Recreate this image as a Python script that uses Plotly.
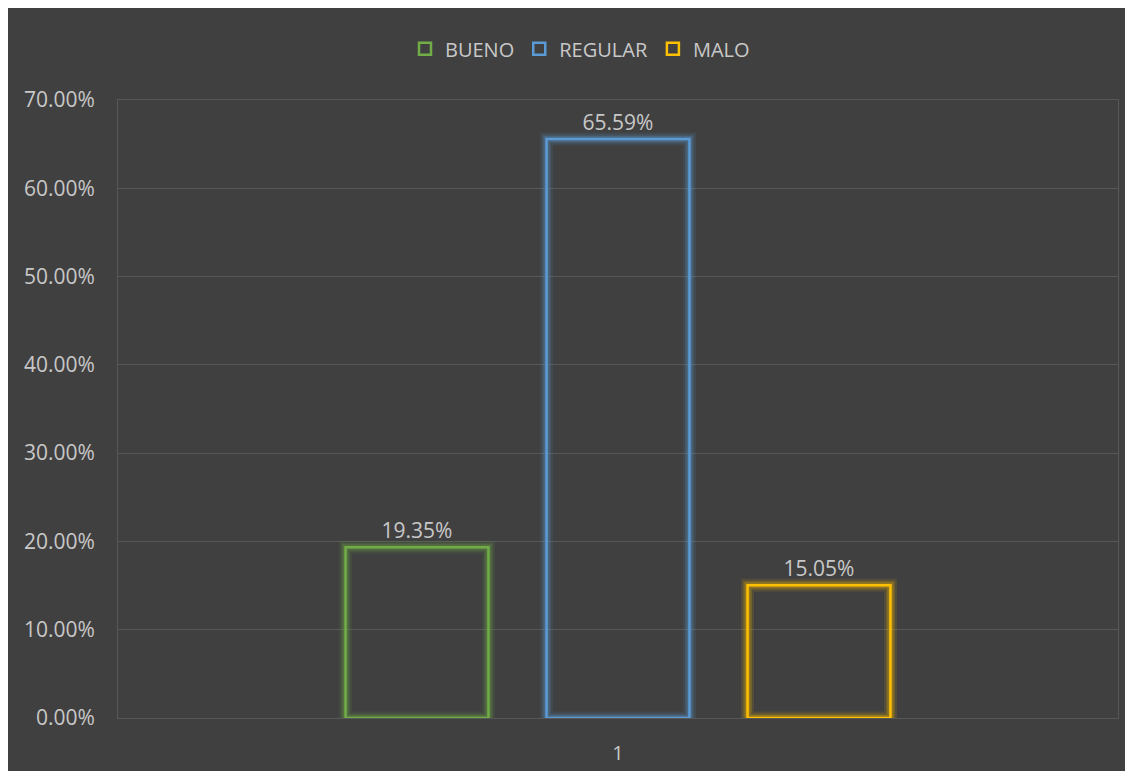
import plotly.graph_objects as go

categories = ["1"]
series_names = ["BUENO", "REGULAR", "MALO"]
series_values = [[0.1935], [0.6559], [0.1505]]
series_colors = ["#70AD47", "#5B9BD5", "#FFC000"]
glow_rgb = ["112,173,71", "91,155,213", "255,192,0"]
y_ticks = [0, 0.1, 0.2, 0.3, 0.4, 0.5, 0.6, 0.7]

FONT = "Open Sans"
TXT = "#C8C8C8"
GRID = "#575757"
BG = "#404040"

fig = go.Figure()
for name, vals, col, rgb in zip(series_names, series_values, series_colors, glow_rgb):
    for w, a in [(13, 0.10), (9, 0.16), (6, 0.24)]:
        fig.add_trace(go.Bar(
            x=categories, y=vals, name=name + "_glow", showlegend=False, offsetgroup=name,
            marker=dict(color="rgba(0,0,0,0)", line=dict(color=f"rgba({rgb},{a})", width=w)),
            hoverinfo="skip",
        ))
    fig.add_trace(go.Bar(
        x=categories, y=vals, name=name, offsetgroup=name,
        marker=dict(color="rgba(0,0,0,0)", line=dict(color=col, width=2.5)),
        text=[f"{v*100:.2f}%" for v in vals], textposition="outside",
        textfont=dict(family=FONT, size=21, color=TXT), cliponaxis=False,
    ))

fig.update_layout(
    width=1125, height=763,
    paper_bgcolor=BG, plot_bgcolor=BG,
    margin=dict(l=110, r=15, t=92, b=53, autoexpand=False),
    barmode="group", bargap=0.397, bargroupgap=0.289,
    font=dict(family=FONT, color=TXT, size=21),
    legend=dict(orientation="h", x=0.462, xanchor="center", y=1.083, yanchor="middle",
                font=dict(family=FONT, size=20, color=TXT), bgcolor="rgba(0,0,0,0)",
                itemwidth=30, tracegroupgap=0),
    xaxis=dict(showgrid=False, showline=True, mirror=True, linecolor=GRID, linewidth=1,
               automargin=False, ticks="", ticklabelstandoff=17,
               tickfont=dict(family=FONT, size=20, color=TXT)),
    yaxis=dict(range=[0, 0.7], tickvals=y_ticks, tickformat=".2%", showgrid=True,
               gridcolor=GRID, gridwidth=1, zeroline=False, showline=True, mirror=True,
               linecolor=GRID, linewidth=1, ticks="", ticklabelstandoff=18, automargin=False,
               tickfont=dict(family=FONT, size=21, color=TXT)),
)

fig.write_html("out.html")
